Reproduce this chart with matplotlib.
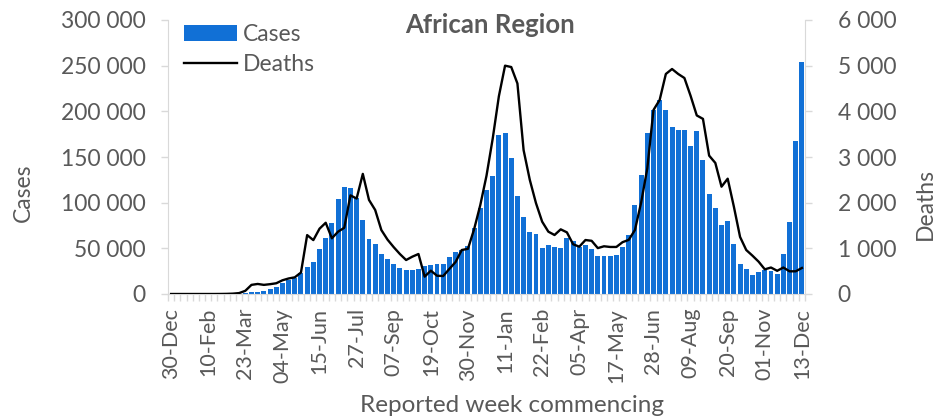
import matplotlib
matplotlib.use("Agg")
import matplotlib.pyplot as plt
from matplotlib.ticker import FuncFormatter, FixedLocator, MultipleLocator
import numpy as np

# ---- data (weekly, starting week commencing 30-Dec) ----
cases = [0, 0, 0, 0, 0, 0, 0, 0, 10, 50, 100, 300,
         900, 2500, 2500, 3000, 5500, 8000, 12400, 15300, 17900, 22600,
         29900, 35400, 48900, 61000, 77400, 103700, 116800, 115700, 104800, 81000,
         59900, 54400, 43400, 38000, 32500, 28500, 26300, 26300, 27700, 30700,
         31700, 32500, 32800, 40900, 46400, 48000, 52600, 72600, 93800, 113900,
         129000, 173700, 176600, 148500, 107700, 84700, 67500, 65700, 50000, 54000,
         52000, 50600, 61700, 58000, 51000, 53600, 49000, 41600, 41600, 41600,
         42700, 51800, 64600, 97000, 130000, 176000, 201000, 212000, 201000, 183000,
         180000, 179600, 162000, 178000, 147000, 110000, 94000, 75600, 80000, 54400,
         33000, 27200, 21300, 24300, 26500, 25000, 22300, 44300, 79000, 167000,
         254500]
deaths = [0, 0, 0, 0, 0, 0, 0, 0, 1, 3, 8, 20,
          70, 200, 220, 200, 215, 235, 300, 340, 365, 470,
          1290, 1180, 1430, 1560, 1220, 1365, 1450, 2160, 2090, 2630,
          2060, 1840, 1400, 1190, 1025, 875, 744, 817, 876, 380,
          511, 400, 394, 550, 700, 963, 990, 1420, 1950, 2590,
          3400, 4330, 5000, 4970, 4610, 3150, 2500, 1990, 1584, 1365,
          1292, 1416, 1350, 1090, 1036, 1182, 1165, 1005, 1045, 1030,
          1030, 1135, 1185, 1401, 2000, 2750, 4029, 4250, 4818, 4927,
          4818, 4730, 4340, 3910, 3835, 3030, 2870, 2350, 2525, 1912,
          1250, 963, 840, 708, 540, 580, 508, 580, 497, 497,
          570]
tick_labels = ["30-Dec", "10-Feb", "23-Mar", "04-May", "15-Jun", "27-Jul",
               "07-Sep", "19-Oct", "30-Nov", "11-Jan", "22-Feb", "05-Apr",
               "17-May", "28-Jun", "09-Aug", "20-Sep", "01-Nov", "13-Dec"]
tick_step = 6

assert len(cases) == len(deaths)
n = len(cases)
x = np.arange(n)

GREY = "#595959"
AXIS = "#D9D9D9"
BLUE = "#1170D6"
FONT = "Lato"
FS_X = 15.5
FS_Y = 16.5
FS_LAB = 17.5

plt.rcParams["font.family"] = [FONT, "DejaVu Sans"]

fig = plt.figure(figsize=(9.41, 4.20), dpi=100)
ax = fig.add_axes([168 / 941, 126 / 420, (805 - 168) / 941, (294 - 20) / 420])
ax2 = ax.twinx()

ax.bar(x, cases, width=0.8, color=BLUE, label="Cases", zorder=2)
ax2.plot(x, deaths, color="black", lw=1.7, label="Deaths", zorder=3)

ax.set_xlim(-0.5, n - 0.5)
ax.set_ylim(0, 300000)
ax2.set_ylim(0, 6000)
ax.yaxis.set_major_locator(MultipleLocator(50000))
ax2.yaxis.set_major_locator(MultipleLocator(1000))

fmt = FuncFormatter(lambda v, p: f"{int(v):,}".replace(",", " "))
ax.yaxis.set_major_formatter(fmt)
ax2.yaxis.set_major_formatter(fmt)

ax.xaxis.set_major_locator(FixedLocator(np.arange(0, n, tick_step)))
ax.set_xticklabels(tick_labels, rotation=90)
ax.xaxis.set_minor_locator(FixedLocator(np.arange(-0.5, n, 1)))

for a in (ax, ax2):
    for s in a.spines.values():
        s.set_visible(False)
ax.spines["left"].set_visible(True)
ax.spines["left"].set_color(AXIS)
ax.spines["bottom"].set_visible(True)
ax.spines["bottom"].set_color(AXIS)
ax2.spines["right"].set_visible(True)
ax2.spines["right"].set_color(AXIS)

ax.tick_params(axis="y", colors=AXIS, labelcolor=GREY, labelsize=FS_Y, length=5, width=1, pad=11)
ax2.tick_params(axis="y", colors=AXIS, labelcolor=GREY, labelsize=FS_Y, length=5, width=1, pad=18.5)
ax.tick_params(axis="x", which="major", length=0, labelcolor=GREY, labelsize=FS_X, pad=10)
ax.tick_params(axis="x", which="minor", length=5, color=AXIS, width=1)

ax.set_ylabel("Cases", color=GREY, fontsize=FS_Y)
ax.yaxis.set_label_coords(-0.21, 0.37)
ax2.set_ylabel("Deaths", color=GREY, fontsize=FS_Y)
ax2.yaxis.set_label_coords(1.172, 0.33)
ax.set_xlabel("Reported week commencing", color=GREY, fontsize=FS_LAB)
ax.xaxis.set_label_coords(0.54, -0.37)

fig.text(490 / 941, 1 - 25 / 420, "African Region", ha="center", va="center",
         fontsize=18.5, fontweight="bold", color=GREY)

h1, l1 = ax.get_legend_handles_labels()
h2, l2 = ax2.get_legend_handles_labels()
leg = ax2.legend(h1 + h2, l1 + l2, loc="upper left", bbox_to_anchor=(0.0, 1.045),
                 frameon=False, fontsize=FS_Y, labelcolor=GREY, handlelength=2.3,
                 handletextpad=0.25, labelspacing=0.4, borderaxespad=0.3)

fig.savefig("out.png", dpi=100)
